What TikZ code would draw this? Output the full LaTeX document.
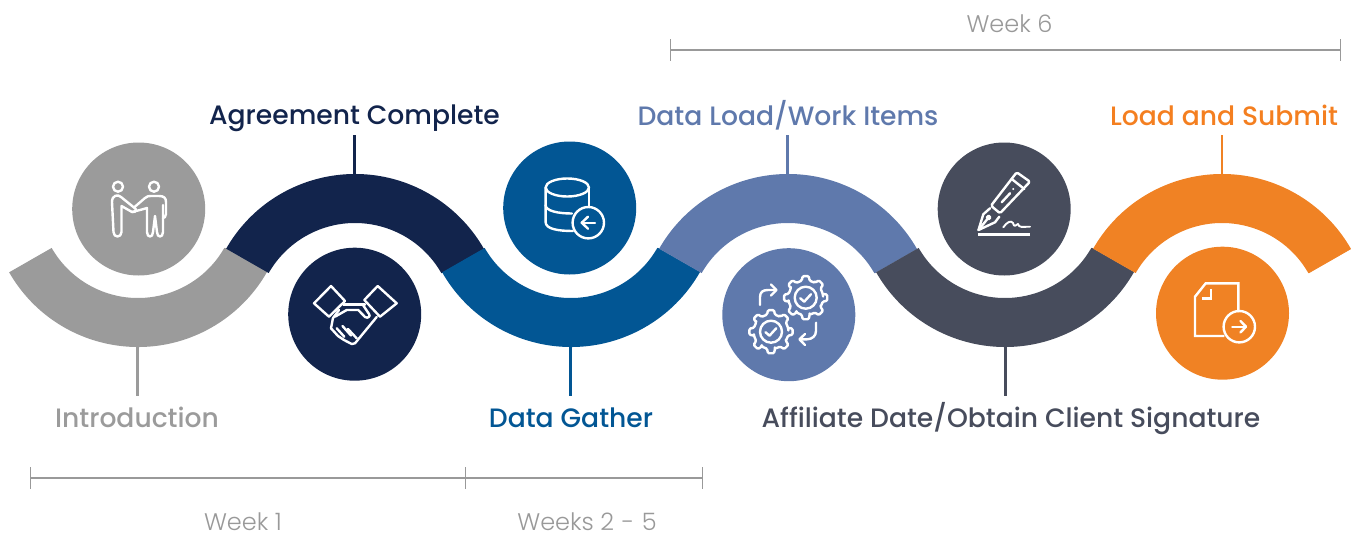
\documentclass[tikz,border=0pt]{standalone}
\usepackage{fontspec}
\setmainfont{Poppins}
\newfontfamily\lblfont{Poppins}[UprightFont=* Medium]
\newfontfamily\wkfont{Poppins}[UprightFont=* Light]
\definecolor{cgray}{HTML}{9B9B9B}
\definecolor{cnavy}{HTML}{12244C}
\definecolor{cblue}{HTML}{025694}
\definecolor{cperi}{HTML}{5F79AC}
\definecolor{cdark}{HTML}{474C5C}
\definecolor{corange}{HTML}{F08224}
\definecolor{ctorange}{HTML}{F47F20}
\definecolor{cwk}{HTML}{999999}
\tikzset{
  disc/.style={circle,minimum size=133pt,inner sep=0pt,fill=#1},
  stagelabel/.style={anchor=base,inner sep=0pt,text=#1,font=\lblfont\fontsize{26.6}{27}\selectfont},
  weeklabel/.style={anchor=base,inner sep=0pt,text=cwk,font=\wkfont\fontsize{24}{24}\selectfont},
  leader/.style={draw=#1,line width=2.6pt},
  spanline/.style={draw=cwk,line width=1.8pt},
  spantick/.style={draw=cwk,line width=1pt},
  icon/.style={draw=white,line width=2.4pt,line join=round,line cap=round},
}
% each band also strokes its right-hand seam in its own colour, so that no hairline shows under the next band
\newcommand\bandtop[3]{%
  \fill[#3] (#1,#2)++(209.8:148.5pt) arc[start angle=209.8,end angle=330.2,radius=148.5pt]
    -- ++(150.2:49pt) arc[start angle=330.2,end angle=209.8,radius=99.5pt] -- cycle;
  \draw[#3,line width=.8pt] (#1,#2)++(330.2:148.2pt) -- ++(150.2:48.4pt);}
\newcommand\bandbot[3]{%
  \fill[#3] (#1,#2)++(150.2:148.5pt) arc[start angle=150.2,end angle=29.8,radius=148.5pt]
    -- ++(209.8:49pt) arc[start angle=29.8,end angle=150.2,radius=99.5pt] -- cycle;
  \draw[#3,line width=.8pt] (#1,#2)++(29.8:148.2pt) -- ++(209.8:48.4pt);}
\newcommand\gearshape[2]{%
  \begin{scope}[shift={(#1,#2)}]
    \draw[icon,rounded corners=1.2pt] (0:17.5pt)
      \foreach \a in {0,45,...,315}{
        -- ({\a-13}:17.5pt) -- ({\a-8}:21.8pt) -- ({\a+8}:21.8pt) -- ({\a+13}:17.5pt) -- ({\a+32}:17.5pt)
      } -- cycle;
    \draw[icon] (0,0) circle (11pt);
    \draw[icon] (-5.5,0.5) -- (-1.5,4) -- (5.3,-3.5);
  \end{scope}}
\begin{document}
\begin{tikzpicture}[x=1pt,y=1pt,yscale=-1]
\useasboundingbox (0,0) rectangle (1353,533);
% coordinates for connectors
\coordinate (f1) at (137.5,346);
\coordinate (e1) at (137.5,396);
\coordinate (f2) at (354.5,175);
\coordinate (e2) at (354.5,135);
\coordinate (f3) at (570.5,346);
\coordinate (e3) at (570.5,396);
\coordinate (f4) at (787.7,175);
\coordinate (e4) at (787.7,135);
\coordinate (f5) at (1005.5,346);
\coordinate (e5) at (1005.5,396);
\coordinate (f6) at (1222,175);
\coordinate (e6) at (1222,135);
\draw[leader=cgray] (f1) -- (e1);
\draw[leader=cnavy] (f2) -- (e2);
\draw[leader=cblue] (f3) -- (e3);
\draw[leader=cperi] (f4) -- (e4);
\draw[leader=cdark] (f5) -- (e5);
\draw[leader=corange] (f6) -- (e6);
% serpentine band
\bandbot{138}{198.5}{cgray}
\bandtop{355}{322.5}{cnavy}
\bandbot{571}{198.5}{cblue}
\bandtop{788}{322.5}{cperi}
\bandbot{1005}{198.5}{cdark}
\bandtop{1222}{322.5}{corange}
% discs
\node[disc=cgray] (c1) at (138.7,209) {};
\node[disc=cnavy] (c2) at (354.7,314.2) {};
\node[disc=cblue] (c3) at (569.7,208) {};
\node[disc=cperi] (c4) at (788.8,314.7) {};
\node[disc=cdark] (c5) at (1004.2,209) {};
\node[disc=corange] (c6) at (1222.5,313.2) {};
% labels
\node[stagelabel=cnavy] (l2) at (354.5,124) {Agreement Complete};
\node[stagelabel=cperi] (l4) at (788,125) {Data Load/Work Items};
\node[stagelabel=ctorange] (l6) at (1224,125) {Load and Submit};
\node[stagelabel=cgray] (l1) at (137,427.5) {Introduction};
\node[stagelabel=cblue] (l3) at (571,427.5) {Data Gather};
\node[stagelabel=cdark] (l5) at (1011,427.5) {Affiliate Date/Obtain Client Signature};
\node[weeklabel] (w6) at (1009.5,32) {Week 6};
\node[weeklabel] (w1) at (243,530) {Week 1};
\node[weeklabel] (w2) at (587,530) {Weeks 2 \kern1pt- \kern1pt5};
% spans
\coordinate (s1) at (30.7,478);
\coordinate (s2) at (465.6,478);
\coordinate (s3) at (702.7,478);
\coordinate (s4) at (670.6,50.2);
\coordinate (s5) at (1340.8,50.2);
\draw[spanline] (s1) -- (s2);
\draw[spanline] (s2) -- (s3);
\draw[spanline] (s4) -- (s5);
\foreach \p in {s1,s2,s3}{\draw[spantick] ([yshift=-11pt]\p) -- ([yshift=11pt]\p);}
\foreach \p in {s4,s5}{\draw[spantick] ([yshift=-11pt]\p) -- ([yshift=11pt]\p);}
% icon 1: two people shaking hands
\draw[icon] (118,186.7) circle (5pt);
\draw[icon] (154,186.7) circle (5pt);
\draw[icon] (121.5,206) -- (121.5,232) .. controls (121.5,238) and (113.5,238) .. (113.5,232) -- (112,202)
   .. controls (112,195) and (118,194) .. (121,197) -- (134,207.5) .. controls (137,209) and (137,212.5) .. (132,212) -- (121.5,206);
\draw[icon] (134,207.5) -- (145,198) .. controls (147,196) and (149,196) .. (151,196) -- (159,196)
   .. controls (164,196) and (166,198) .. (166,202) -- (166,214) .. controls (166,217) and (164,218) .. (163,218);
\draw[icon] (163,205) -- (163,232) .. controls (163,238) and (157,238) .. (157,232) -- (155,216) -- (153,232)
   .. controls (153,238) and (147,238) .. (147,232) -- (147,208) -- (140,210) -- (132,212);
% icon 2: handshake
\draw[icon] (331,286) -- (345,301) -- (329,316.7) -- (314,303.3) -- cycle;
\draw[icon] (377.7,286) -- (396.7,303.3) -- (380,316.7) -- (364.3,300) -- cycle;
\draw[icon] (343.3,304.3) -- (365,304.3);
\draw[icon] (335,316.7) -- (346.7,310) -- (358.3,310) -- (365,317) .. controls (368,319) and (371,316) .. (369,314) -- (363,305);
\draw[icon] (339,310) -- (333,318) -- (331,328.3) -- (338,336) -- (344,340) -- (351.7,344) -- (355,343.3) -- (376.7,317);
\draw[icon] (336.7,328.3) -- (344.3,336.7);
\draw[icon] (342.5,326) -- (351,335.5);
\draw[icon] (348,329) -- (356.7,338.3);
% icon 3: database
\draw[icon] (567.3,187.5) ellipse (21.7pt and 9pt);
\draw[icon] (545.6,187.5) -- (545.6,222) .. controls (545.6,229) and (558,231) .. (573,231);
\draw[icon] (589,187.5) -- (589,207);
\draw[icon] (545.6,205) .. controls (545.6,211) and (558,213.5) .. (572,213.5);
\draw[icon] (588.3,222.7) circle (15.7pt);
\draw[icon] (595,222.7) -- (581.7,222.7);
\draw[icon] (588,216.7) -- (581.7,222.7) -- (588,228.7);
% icon 4: gears
\gearshape{805.7}{297.7}
\gearshape{771}{331.7}
\draw[icon] (760,305) -- (760,297) .. controls (760,292) and (763,290) .. (768,290) -- (775.7,290);
\draw[icon] (771,284.5) -- (776.5,290) -- (771,295.5);
\draw[icon] (816,322.7) -- (816,331) .. controls (816,336) and (812,339.3) .. (807,339.3) -- (800,339.3);
\draw[icon] (805,334) -- (799.5,339.3) -- (805,345);
% icon 5: pen
\draw[icon,rounded corners=1.5pt] (1016.7,172.3) -- (1030,181.7) -- (1000,213.3) -- (991,205.7) -- cycle;
\draw[icon] (1011.7,179) -- (1024.3,189);
\draw[icon] (1001.7,202.3) -- (1010,193.3);
\fill[white] (1013.3,189) circle (1.1pt);
\draw[icon] (990,208.3) -- (983.3,214.3) -- (978.5,230) -- (995,222.3) -- (999.3,216.7);
\draw[icon] (978.5,230) -- (987,219.5);
\draw[icon] (988.5,217.5) circle (1.8pt);
\draw[icon,line width=1.9pt] (1003.3,227.3) .. controls (1007,222) and (1011,220) .. (1013,223) .. controls (1014,228) and (1016,225) .. (1018,224) .. controls (1019,228) and (1022,226.7) .. (1030,226.7);
\draw[icon,line cap=butt,line width=3pt] (978,234.3) -- (1030,234.3);
% icon 6: document
\draw[icon,line cap=butt,line join=miter] (1224.3,336) -- (1195,336) -- (1195,296.7) -- (1205.7,283.3) -- (1238.3,283.3) -- (1238.3,312);
\draw[icon,line cap=butt,line join=miter] (1210.7,289) -- (1210.7,298.3) -- (1202.3,298.3);
\draw[icon] (1239.3,326.7) circle (15.7pt);
\draw[icon] (1232.3,326.7) -- (1245.7,326.7);
\draw[icon] (1240.5,321) -- (1246,326.7) -- (1240.5,332.4);
\end{tikzpicture}
\end{document}
